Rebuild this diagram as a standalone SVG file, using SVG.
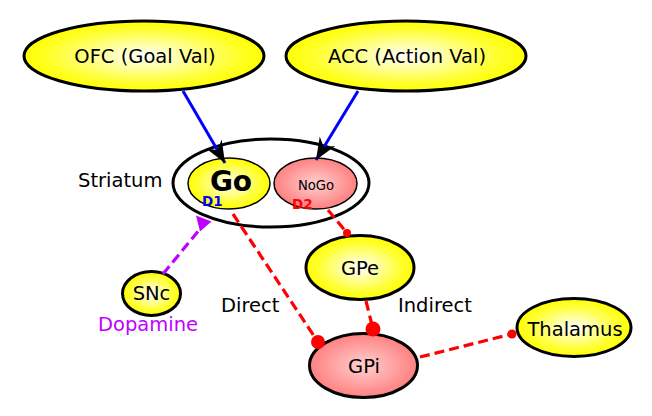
<svg xmlns="http://www.w3.org/2000/svg" width="652" height="416" viewBox="0 0 652 416">
<style>
text{font-family:"DejaVu Sans","Liberation Sans",sans-serif;fill:#000}
.lbl{font-size:19.5px}
.mid{text-anchor:middle}
.node{stroke:#000;stroke-width:3}
.thin{stroke:#000;stroke-width:1.5}
.yel{fill:url(#gy)}
.pink{fill:url(#gp)}
.red{stroke:#f00;stroke-width:3.2;stroke-dasharray:10,5;fill:none}
.blue{stroke:#00f;stroke-width:3;fill:none}
.purp{stroke:#c000ff;stroke-width:3.2;stroke-dasharray:10,5;fill:none}
.dot{fill:#f00}
</style>
<defs>
<radialGradient id="gy" cx="50%" cy="50%" r="50%">
<stop offset="0" stop-color="#ffffff"/>
<stop offset="0.75" stop-color="#ffff33"/>
<stop offset="1" stop-color="#ffff00"/>
</radialGradient>
<radialGradient id="gp" cx="50%" cy="50%" r="50%">
<stop offset="0" stop-color="#ffd0d0"/>
<stop offset="1" stop-color="#ff8080"/>
</radialGradient>
<marker id="stealth" markerUnits="userSpaceOnUse" viewBox="-23 -10 24 20" refX="0" refY="0" markerWidth="24" markerHeight="20" orient="auto">
<path d="M0,0 L-22,-9 L-15,0 L-22,9 Z" fill="#000"/>
</marker>
</defs>

<g id="ofc">
<ellipse class="node yel" cx="144" cy="56" rx="120" ry="35"/>
<text class="lbl mid" x="145" y="63">OFC (Goal Val)</text>
</g>
<g id="acc">
<ellipse class="node yel" cx="406" cy="56" rx="120" ry="35"/>
<text class="lbl mid" x="407" y="63">ACC (Action Val)</text>
</g>
<g id="striatum">
<ellipse class="node" cx="271" cy="183" rx="98" ry="44" fill="#fff" stroke-width="3.5"/>
<text class="lbl" x="78" y="187">Striatum</text>
</g>
<g id="go">
<ellipse class="thin yel" cx="229" cy="183.5" rx="41" ry="25.5"/>
<text class="mid" x="231" y="191" style="font-size:28px;font-weight:bold">Go</text>
<text x="202" y="206" style="font-size:13.5px;font-weight:bold;fill:#00f">D1</text>
</g>
<g id="nogo">
<ellipse class="thin pink" cx="315.5" cy="183.5" rx="41.5" ry="25.5"/>
<text class="mid" x="316" y="190" style="font-size:13.2px">NoGo</text>
<text x="292" y="209" style="font-size:13.5px;font-weight:bold;fill:#f00">D2</text>
</g>
<g id="gpe">
<ellipse class="node yel" cx="360" cy="267.5" rx="54" ry="32"/>
<text class="lbl mid" x="360" y="275">GPe</text>
</g>
<g id="gpi">
<ellipse class="node pink" cx="363.5" cy="365.5" rx="54" ry="32"/>
<text class="lbl mid" x="364" y="373">GPi</text>
</g>
<g id="thalamus">
<ellipse class="node yel" cx="574" cy="327.5" rx="57" ry="29"/>
<text class="lbl mid" x="575" y="335.5">Thalamus</text>
</g>
<g id="snc">
<ellipse class="node yel" cx="151.5" cy="293.5" rx="29" ry="22"/>
<text class="lbl mid" x="151.5" y="300">SNc</text>
<text class="lbl" x="98" y="331" style="fill:#c000ff">Dopamine</text>
</g>

<g id="connectors">
<line class="blue" x1="183" y1="91" x2="225" y2="163" marker-end="url(#stealth)"/>
<line class="blue" x1="358" y1="91" x2="316" y2="160" marker-end="url(#stealth)"/>
<line class="purp" x1="163" y1="274" x2="200" y2="229"/>
<polygon points="196,215.5 211.5,221.5 200,231.5" fill="#c000ff"/>
<line class="red" x1="233" y1="214" x2="318" y2="342"/>
<circle class="dot" cx="318" cy="342" r="7"/>
<line class="red" x1="328" y1="210" x2="347" y2="233"/>
<circle class="dot" cx="347" cy="233" r="4"/>
<line class="red" x1="366" y1="301" x2="373" y2="329"/>
<circle class="dot" cx="373" cy="329" r="7.5"/>
<line class="red" x1="420" y1="357" x2="512" y2="334"/>
<circle class="dot" cx="512" cy="334" r="4.5"/>
</g>
<text class="lbl" x="221" y="312">Direct</text>
<text class="lbl" x="398" y="312">Indirect</text>
</svg>
